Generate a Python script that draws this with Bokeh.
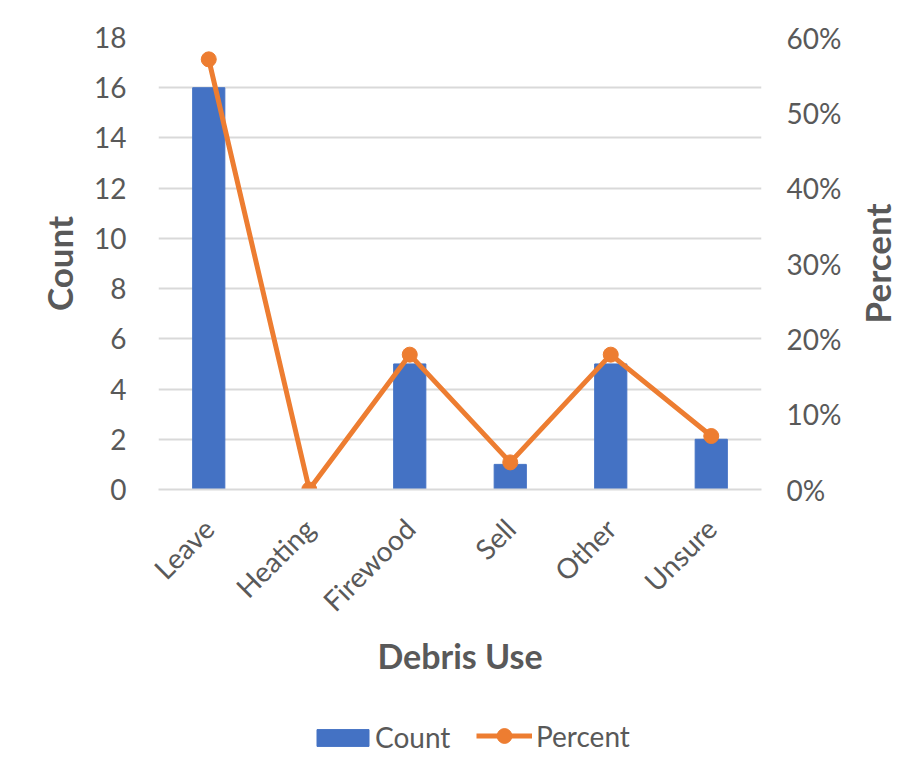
import math
from bokeh.plotting import figure
from bokeh.layouts import column, row
from bokeh.models import (Range1d, LinearAxis, FixedTicker, NumeralTickFormatter,
                          Legend, LegendItem, FactorRange)
from bokeh.embed import file_html
from bokeh.resources import INLINE

categories = ["Leave", "Heating", "Firewood", "Sell", "Other", "Unsure"]
counts = [16, 0, 5, 1, 5, 2]
percents = [0.571, 0.0, 0.179, 0.036, 0.179, 0.071]
count_ticks = [0, 2, 4, 6, 8, 10, 12, 14, 16, 18]
percent_ticks = [0.0, 0.1, 0.2, 0.3, 0.4, 0.5, 0.6]

FONT = "Lato"
TXT = "#595959"
GRID = "#D9D9D9"
BLUE = "#4472C4"
ORANGE = "#ED7D31"

p = figure(width=844, height=700, x_range=FactorRange(*categories),
           y_range=Range1d(0, 18), output_backend="svg", toolbar_location=None,
           min_border_left=158, min_border_right=82, min_border_top=37,
           min_border_bottom=211)
p.outline_line_color = None
p.extra_y_ranges = {"pct": Range1d(0, 0.6)}

bars = p.vbar(x=categories, top=counts, width=0.32, color=BLUE)
line = p.line(x=categories, y=percents, y_range_name="pct", color=ORANGE,
              line_width=5, line_join="round")
dots = p.scatter(x=categories, y=percents, y_range_name="pct", size=15,
                 color=ORANGE)

# left axis
ya = p.yaxis[0]
ya.ticker = FixedTicker(ticks=count_ticks)
ya.axis_line_color = None
ya.major_tick_line_color = None
ya.minor_tick_line_color = None
ya.major_label_text_font = FONT
ya.major_label_text_font_size = "28px"
ya.major_label_text_color = TXT
ya.major_label_standoff = 26
ya.axis_label = "Count"
ya.axis_label_text_font = FONT
ya.axis_label_text_font_size = "35px"
ya.axis_label_text_font_style = "bold"
ya.axis_label_text_color = TXT
ya.axis_label_standoff = 11

# right axis (tick labels)
ra = LinearAxis(y_range_name="pct", ticker=FixedTicker(ticks=percent_ticks),
                formatter=NumeralTickFormatter(format="0%"))
ra.axis_line_color = None
ra.major_tick_line_color = None
ra.minor_tick_line_color = None
ra.major_label_text_font = FONT
ra.major_label_text_font_size = "28px"
ra.major_label_text_color = TXT
ra.major_label_standoff = 19
p.add_layout(ra, "right")

# bottom axis
xa = p.xaxis[0]
xa.axis_line_color = GRID
xa.axis_line_width = 2
xa.major_tick_line_color = None
xa.minor_tick_line_color = None
xa.major_label_orientation = math.pi / 4
xa.major_label_text_font = FONT
xa.major_label_text_font_size = "28px"
xa.major_label_text_color = TXT
xa.major_label_standoff = 28
xa.axis_label = "Debris Use"
xa.axis_label_text_font = FONT
xa.axis_label_text_font_size = "34px"
xa.axis_label_text_font_style = "bold"
xa.axis_label_text_color = TXT
xa.axis_label_standoff = 2

p.xgrid.grid_line_color = None
p.ygrid.grid_line_color = GRID
p.ygrid.grid_line_width = 2
p.ygrid.ticker = FixedTicker(ticks=count_ticks)

# strip at the right holding the secondary axis title (reads bottom-to-top)
rf = figure(width=72, height=700, output_backend="svg", toolbar_location=None,
            x_axis_type=None, x_range=Range1d(0, 1), y_range=Range1d(0, 0.6),
            min_border_left=53, min_border_right=0, min_border_top=37,
            min_border_bottom=211)
rf.outline_line_color = None
rf.xgrid.visible = False
rf.ygrid.visible = False
rya = rf.yaxis[0]
rya.ticker = FixedTicker(ticks=[])
rya.axis_line_color = None
rya.major_tick_line_color = None
rya.minor_tick_line_color = None
rya.major_label_text_font_size = "0px"
rya.axis_label = "Percent"
rya.axis_label_text_font = FONT
rya.axis_label_text_font_size = "35px"
rya.axis_label_text_font_style = "bold"
rya.axis_label_text_color = TXT
rya.axis_label_standoff = 0

# legend strip below the chart
lg = figure(width=916, height=74, output_backend="svg", toolbar_location=None,
            x_axis_type=None, y_axis_type=None, min_border=0,
            min_border_left=158, min_border_right=154,
            x_range=Range1d(0, 1), y_range=Range1d(0, 1))
lg.outline_line_color = None
lg.xgrid.visible = False
lg.ygrid.visible = False
kb = lg.vbar(x=[0.5], top=[0.5], width=0.1, color=BLUE, visible=False)
kl = lg.line(x=[0.2, 0.8], y=[0.5, 0.5], color=ORANGE, line_width=5, visible=False)
ks = lg.scatter(x=[0.5], y=[0.5], size=15, color=ORANGE, visible=False)

common = dict(orientation="horizontal", padding=0, margin=0,
              border_line_color=None, background_fill_alpha=0,
              label_text_font=FONT, label_text_font_size="28px",
              label_text_color=TXT)
leg1 = Legend(items=[LegendItem(label="Count", renderers=[kb])],
              location=(152, 20), glyph_width=65, glyph_height=21,
              label_height=21, label_standoff=0, **common)
leg2 = Legend(items=[LegendItem(label="Percent", renderers=[kl, ks])],
              location=(318, 20), glyph_width=56, glyph_height=37,
              label_height=37, label_standoff=4, **common)
lg.add_layout(leg1)
lg.add_layout(leg2)

layout = column(row(p, rf, spacing=0), lg, spacing=0)
open("out.html", "w").write(file_html(layout, INLINE))
